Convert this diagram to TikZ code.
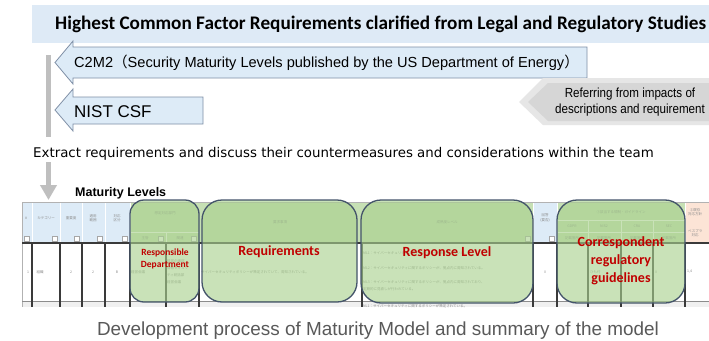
\documentclass[tikz,border=0pt]{standalone}
\usepackage{fontspec}
\setmainfont{Liberation Sans}
\newfontfamily\calibri{Carlito}
\newfontfamily\dejavu{DejaVu Sans}
\newfontfamily\jp{Noto Sans CJK JP}
\newfontfamily\narrow[FakeStretch=0.88]{Liberation Sans}
\usetikzlibrary{arrows.meta}
\definecolor{band}{HTML}{DEEAF6}
\definecolor{arrfill}{HTML}{DDEBF7}
\definecolor{arrline}{HTML}{7F8FA6}
\definecolor{bargray}{HTML}{BFBFBF}
\definecolor{grayout}{HTML}{E6E6E6}
\definecolor{grayin}{HTML}{D6D6D6}
\definecolor{hdrblue}{HTML}{DDEBF7}
\definecolor{hdrgreen}{HTML}{C6E0B4}
\definecolor{hdrpeach}{HTML}{FCE4D6}
\definecolor{boxgreen}{HTML}{A9D18E}
\definecolor{boxline}{HTML}{44546A}
\definecolor{redlab}{HTML}{C00000}
\definecolor{capgray}{HTML}{595959}
\definecolor{gridline}{HTML}{3A3A3A}
\tikzset{
  lbox/.style={fill=arrfill, draw=arrline, line width=0.8pt},
  gbox/.style={fill=boxgreen, fill opacity=0.62, draw=boxline, line width=1.3pt, rounded corners=#1},
  redtxt/.style={text=redlab, font=\calibri\bfseries\fontsize{#1}{#1}\selectfont, inner sep=0pt, align=center},
  tiny/.style={text=black!45, font=\jp\fontsize{3.5}{4.5}\selectfont, inner sep=0pt, align=center},
  tinyl/.style={text=black!45, font=\jp\fontsize{3.5}{7}\selectfont, inner sep=0pt, align=left, anchor=west},
  fbtn/.style={fill=white, draw=black!35, line width=0.3pt},
}
\begin{document}
\begin{tikzpicture}[x=1pt,y=-1pt]
\useasboundingbox (0,0) rectangle (709,340);
\fill[white] (0,0) rectangle (709,340);
% header band
\fill[band] (32,5) rectangle (709,43);
\node[anchor=base west, inner sep=0pt, font=\calibri\bfseries\fontsize{19.2}{21}\selectfont] (title) at (55,29) {Highest Common Factor Requirements clarified from Legal and Regulatory Studies};
% C2M2 arrow
\draw[lbox] (55,62.5) -- (73,41) -- (73,47) -- (587,47) -- (587,78) -- (73,78) -- (73,84) -- cycle;
\node[anchor=base west, inner sep=0pt, font=\fontsize{14.6}{16}\selectfont] (c2m2) at (74,67.5) {C2M2{\jp（}Security Maturity Levels published by the US Department of Energy{\jp）}};
% NIST arrow
\draw[lbox] (55,110) -- (73,89) -- (73,97) -- (203,97) -- (203,124) -- (73,124) -- (73,131) -- cycle;
\node[anchor=base west, inner sep=0pt, font=\fontsize{17}{19}\selectfont] (nist) at (74,117) {NIST CSF};
% referring arrow
\fill[grayout] (519,102) -- (543,78) -- (712,78) -- (712,125) -- (543,125) -- cycle;
\fill[grayin] (528,102) -- (548,83) -- (712,83) -- (712,121) -- (548,121) -- cycle;
\node[inner sep=0pt, align=center, font=\narrow\fontsize{13.2}{16.5}\selectfont] (refer) at (630,102) {Referring from impacts of\\descriptions and requirement};
% gray bar
\coordinate (barA) at (48.5,55);
\coordinate (barB) at (48.5,137);
\coordinate (barC) at (48.5,162);
\coordinate (barD) at (48.5,200);
\draw[bargray, line width=5.5pt] (barA) -- (barB);
\draw[bargray, line width=5.5pt, -{Triangle[width=16pt,length=15pt]}] (barC) -- (barD);
% extract text
\node[anchor=base west, inner sep=0pt, font=\dejavu\fontsize{13.35}{15}\selectfont] (extract) at (33,157) {Extract requirements and discuss their countermeasures and considerations within the team};
% maturity levels
\node[anchor=base west, inner sep=0pt, font=\bfseries\fontsize{12.5}{14}\selectfont] (matlev) at (75,196) {Maturity Levels};
% ---------- table ----------
\fill[hdrblue] (22,202) rectangle (709,243);
\fill[hdrgreen] (130,202) rectangle (533,243);
\fill[hdrgreen] (557,202) rectangle (685,243);
\fill[hdrpeach] (685,202) rectangle (709,243);
\fill[white] (22,243) rectangle (709,307);
\fill[black!6] (22,301) rectangle (709,307);
% header separators
\foreach \x in {32,60,82,105,130,533,557,685}{\draw[white, line width=0.8pt] (\x,202) -- (\x,243);}
\draw[white, line width=0.6pt] (166,232) -- (166,243);
\draw[white, line width=0.6pt] (130,232) -- (199,232);
\draw[white, line width=0.6pt] (557,220) -- (685,220);
\draw[white, line width=0.6pt] (557,232) -- (685,232);
\foreach \x in {588,621,653}{\draw[white, line width=0.6pt] (\x,220) -- (\x,243);}
\draw[black!30, line width=0.6pt] (22,202) -- (709,202);
\draw[black!30, line width=0.6pt] (22,202) -- (22,307);
% filter buttons
\foreach \x in {27,55,77,100,125,161,194,528,552}{\draw[fbtn] (\x-2.5,236) rectangle (\x+2.5,241);}
% header tiny texts
\node[tiny] (h1) at (26,218) {\#};
\node[tiny] (h2) at (46,218) {カテゴリー};
\node[tiny] (h3) at (71,218) {重要度};
\node[tiny] (h4) at (93,218) {適用\\範囲};
\node[tiny] (h5) at (117,218) {対応\\区分};
\node[tiny] (h6) at (165,213) {想定対応部門};
\node[tiny] (h7) at (145,238) {主管};
\node[tiny] (h8) at (180,238) {関連};
\node[tiny] (h9) at (280,222) {要求事項};
\node[tiny] (h10) at (447,222) {成熟度レベル};
\node[tiny] (h11) at (545,218) {回答\\(要否)};
\node[tiny] (h12) at (621,212) {①該当する規制・ガイドライン};
\node[tiny] (h13) at (572,226) {GDPR};
\node[tiny] (h14) at (604,226) {NIS2};
\node[tiny] (h15) at (637,226) {CRA};
\node[tiny] (h16) at (669,226) {SEC};
\node[tiny] (h17) at (572,238) {記載箇所};
\node[tiny] (h18) at (604,238) {記載箇所};
\node[tiny] (h19) at (637,238) {記載箇所};
\node[tiny] (h20) at (669,238) {記載箇所};
\node[tiny, anchor=west] (h21) at (688,212) {②既存\\対応方針};
\node[tiny, anchor=west] (h22) at (688,233) {ベスプラ\\対応};
% body lines
\draw[gridline, line width=1.5pt] (22,243) -- (709,243);
\draw[black!45, line width=0.6pt] (22,301) -- (709,301);
\foreach \x in {32,60,82,105,130,166,199,362,533,557,588,621,653,685}{\draw[gridline, line width=1.1pt] (\x,243) -- (\x,307);}
% body tiny texts
\node[tiny] (b1) at (28,272) {1};
\node[tiny] (b2) at (40,272) {組織};
\node[tiny] (b3) at (71,272) {2};
\node[tiny] (b4) at (93,272) {2};
\node[tiny] (b5) at (117,272) {B};
\node[tinyl] (b6) at (131,272) {経営会議};
\node[tinyl] (b7) at (167,272) {経営企画部\\情報セキュリ\\ティ統括部\\経営会議};
\node[tinyl] (b8) at (201,272) {サイバーセキュリティポリシーが策定されていて、周知されている。};
\node[tinyl] (b9) at (363,253) {ML1：サイバーセキュリティに関するポリシーが策定されている。};
\node[tinyl] (b10) at (363,268) {ML2：サイバーセキュリティに関するポリシーが、拠点内に周知されている。};
\node[tinyl] (b11) at (363,286) {ML3：サイバーセキュリティに関するポリシーが、拠点内に周知されており、\\定期的に見直しが行われている。};
\node[tiny] (b12) at (545,272) {0};
\node[tinyl] (b13) at (590,272) {ひも付};
\node[tinyl] (b14) at (655,272) {0};
\node[tinyl] (b15) at (687,272) {1,4};
\node[tinyl] (b16) at (363,306) {NL1：サイバーセキュリティに関するポリシーが策定されている。};
% green boxes
\draw[gbox=14pt] (130,200) rectangle (199,302) node[pos=0.5] (deptbox) {};
\draw[gbox=20pt] (202,200) rectangle (357,302) node[pos=0.5] (reqbox) {};
\draw[gbox=20pt] (361,200) rectangle (533,303) node[pos=0.5] (respbox) {};
\draw[gbox=20pt] (557,200) rectangle (685,303) node[pos=0.5] (regbox) {};
% red labels
\node[redtxt=9.5] (deptlab) at (165,259) {Responsible\\[3pt]Department};
\node[redtxt=14] (reqlab) at (279,252) {Requirements};
\node[redtxt=14] (resplab) at (447,253) {Response Level};
\node[redtxt=14, text width=110pt] (reglab) at (621,261) {Correspondent\\[4pt]regulatory\\[4pt]guidelines};
% caption
\node[anchor=base, inner sep=0pt, text=capgray, font=\fontsize{18.9}{22}\selectfont] (caption) at (378,335) {Development process of Maturity Model and summary of the model};
\end{tikzpicture}
\end{document}
